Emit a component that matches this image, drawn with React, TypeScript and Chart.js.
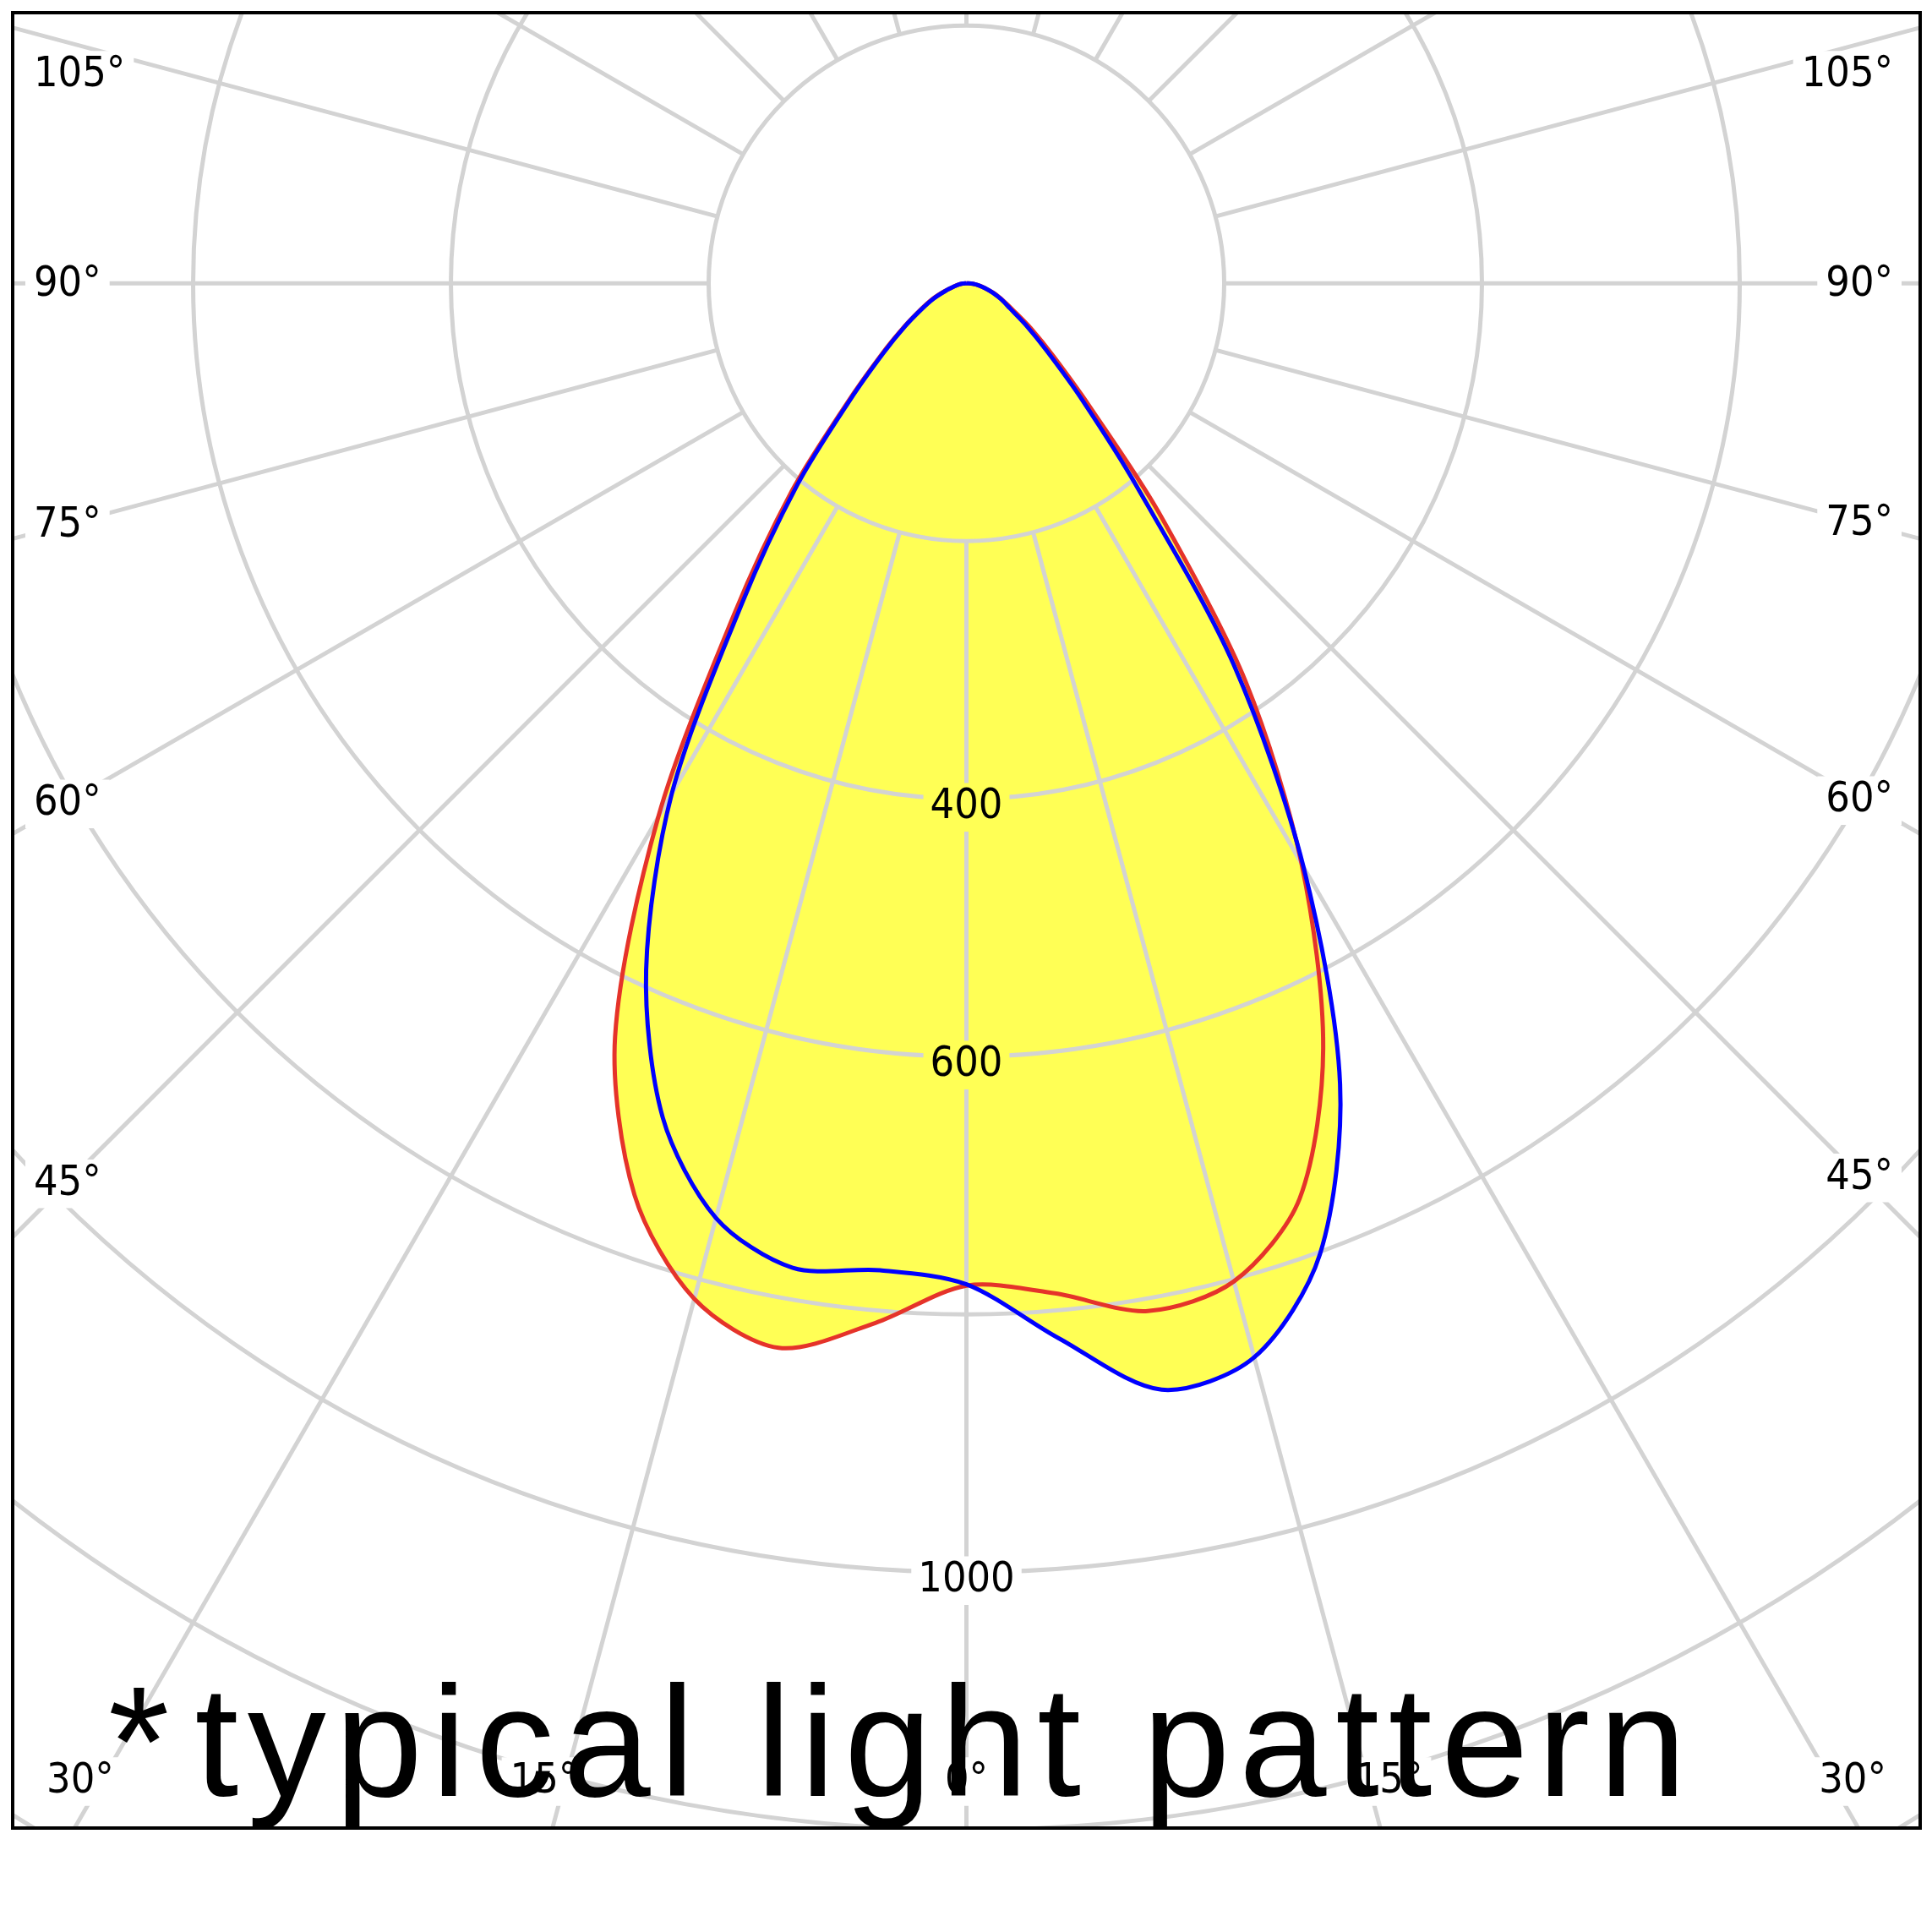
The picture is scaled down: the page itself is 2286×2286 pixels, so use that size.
import React, { useEffect, useRef } from 'react';
import { Chart, registerables } from 'chart.js';

Chart.register(...registerables);

// Photometric data: angle from nadir (deg), negative = left half
const ANGLES = [-90, -85, -80, -75, -70, -65, -60, -55, -50, -45, -40, -35, -30, -25, -20, -15, -10, -5, 0,
  5, 10, 15, 20, 25, 30, 35, 40, 45, 50, 55, 60, 65, 70, 75, 80, 85, 90];
// red curve (cd)
const PLANE_RED = [0, 3, 6, 10, 18, 29, 41, 59, 86, 130, 211, 315, 478, 645, 753, 816, 839, 810, 778,
  787, 810, 802, 756, 655, 520, 378, 232, 135, 88, 61, 42, 31, 23, 15, 10, 5, 0];
// blue curve (cd)
const PLANE_BLUE = [0, 3, 6, 10, 17, 28, 40, 58, 84, 127, 204, 304, 457, 588, 689, 751, 776, 769, 777,
  822, 872, 863, 802, 686, 523, 362, 205, 125, 81, 56, 39, 30, 22, 15, 10, 5, 0];

const RING_VALUES = [200, 400, 600, 800, 1000, 1200, 1400];
const RING_LABELS = [400, 600, 1000];
const SPOKE_ANGLES = [0, 15, 30, 45, 60, 75, 90, 105, 120, 135, 150, 165, 180, 195, 210, 225, 240, 255, 270, 285, 300, 315, 330, 345];
const ANGLE_LABELS = [105, 90, 75, 60, 45, 30, 15, 0];
const NOTE_MARK = '*';
const NOTE = 'typical light pattern';

const GRID = '#d3d3d3';
const LABEL_FONT = '50px "DejaVu Sans Condensed", "DejaVu Sans", sans-serif';
const FONT_SIZE = 50;

const rad = (d: number) => (d * Math.PI) / 180;
const toXY = (vals: number[]) =>
  ANGLES.map((a, i) => ({ x: vals[i] * Math.sin(rad(a)), y: -vals[i] * Math.cos(rad(a)) }));

type Box = { text: string; cx: number; cy: number; w: number; h: number };

function labelBoxes(chart: any): Box[] {
  const { ctx, chartArea: a, scales } = chart;
  const cx = scales.x.getPixelForValue(0);
  const cy = scales.y.getPixelForValue(0);
  const k = scales.x.getPixelForValue(1) - cx;
  ctx.save();
  ctx.font = LABEL_FONT;
  const boxes: Box[] = [];
  for (const r of RING_LABELS) {
    const t = String(r);
    const w = ctx.measureText(t).width;
    boxes.push({ text: t, cx, cy: cy + r * k + 10, w: w + 16, h: FONT_SIZE * 1.15 });
  }
  const bottomY = a.bottom - 55;
  const topY = a.top + 72;
  for (const ang of ANGLE_LABELS) {
    const sides = ang === 0 ? [1] : [-1, 1];
    for (const side of sides) {
      const t = `${ang}°`;
      const w = ctx.measureText(t).width;
      const s = Math.sin(rad(ang));
      const c = Math.cos(rad(ang));
      let px = 0;
      let py = 0;
      let bottom = true;
      if (s > 1e-6) {
        px = side < 0 ? a.left + 25 + w / 2 : a.right - 32 - w / 2;
        const R = Math.abs(px - cx) / s;
        py = cy + c * R;
        if (py <= bottomY) {
          bottom = false;
          if (py < topY) py = topY;
          py += 2;
        }
      }
      if (bottom) {
        py = bottomY;
        const R = (py - cy) / c;
        px = cx + side * s * R + (ang === 0 ? 0 : side * 25);
      }
      boxes.push({ text: t, cx: px, cy: py, w: w + 20, h: FONT_SIZE * 1.15 });
    }
  }
  ctx.restore();
  return boxes;
}

const polarPlugin = {
  id: 'polarGrid',
  beforeDatasetsDraw(chart: any) {
    const { ctx, chartArea: a, scales } = chart;
    const cx = scales.x.getPixelForValue(0);
    const cy = scales.y.getPixelForValue(0);
    const k = scales.x.getPixelForValue(1) - cx;
    const boxes = labelBoxes(chart);
    ctx.save();
    ctx.beginPath();
    ctx.rect(a.left, a.top, a.right - a.left, a.bottom - a.top);
    for (const b of boxes) ctx.rect(b.cx - b.w / 2, b.cy - b.h / 2, b.w, b.h);
    ctx.clip('evenodd');
    ctx.strokeStyle = GRID;
    ctx.lineWidth = 5;
    for (const r of RING_VALUES) {
      ctx.beginPath();
      ctx.arc(cx, cy, r * k, 0, Math.PI * 2);
      ctx.stroke();
    }
    const r0 = RING_VALUES[0] * k;
    for (const ang of SPOKE_ANGLES) {
      const s = Math.sin(rad(ang));
      const c = Math.cos(rad(ang));
      ctx.beginPath();
      ctx.moveTo(cx + s * r0, cy + c * r0);
      ctx.lineTo(cx + s * 4000, cy + c * 4000);
      ctx.stroke();
    }
    ctx.restore();
  },
  afterDatasetsDraw(chart: any) {
    const { ctx, chartArea: a } = chart;
    const boxes = labelBoxes(chart);
    ctx.save();
    ctx.font = LABEL_FONT;
    ctx.fillStyle = '#000';
    ctx.textAlign = 'center';
    ctx.textBaseline = 'middle';
    for (const b of boxes) ctx.fillText(b.text, b.cx, b.cy);
    ctx.strokeStyle = '#000';
    ctx.lineWidth = 4;
    ctx.strokeRect(a.left, a.top, a.right - a.left, a.bottom - a.top);
    ctx.font = '186px "Liberation Sans", Arial, sans-serif';
    ctx.textAlign = 'left';
    ctx.textBaseline = 'alphabetic';
    (ctx as any).letterSpacing = '0px';
    const markX = 128;
    ctx.fillText(NOTE_MARK, markX, 2125);
    const mw = ctx.measureText(NOTE_MARK).width;
    (ctx as any).letterSpacing = '10.7px';
    ctx.fillText(NOTE, markX + mw + 30, 2125);
    ctx.restore();
  },
};

export default function App() {
  const ref = useRef<HTMLCanvasElement>(null);
  useEffect(() => {
    const chart = new Chart(ref.current as HTMLCanvasElement, {
      type: 'scatter',
      data: {
        datasets: [
          {
            label: 'blue',
            data: toXY(PLANE_BLUE),
            showLine: true,
            borderColor: '#0000ff',
            borderWidth: 5,
            pointRadius: 0,
            tension: 0.3,
            fill: 'shape',
            backgroundColor: '#ffff55',
          } as any,
          {
            label: 'red',
            data: toXY(PLANE_RED),
            showLine: true,
            borderColor: '#e5332a',
            borderWidth: 5,
            pointRadius: 0,
            tension: 0.3,
            fill: 'shape',
            backgroundColor: '#ffff55',
          } as any,
        ],
      },
      options: {
        responsive: false,
        animation: false,
        devicePixelRatio: 1,
        events: [],
        layout: { padding: { left: 15, top: 15, right: 14, bottom: 123 } },
        scales: {
          x: { type: 'linear', min: -740, max: 740, display: false },
          y: { type: 'linear', min: -1199, max: 210, display: false },
        },
        plugins: {
          legend: { display: false },
          tooltip: { enabled: false },
          filler: { drawTime: 'beforeDraw' },
        } as any,
      },
      plugins: [polarPlugin],
    });
    return () => chart.destroy();
  }, []);
  return (
    <div style={{ position: 'absolute', left: 0, top: 0, width: 2286, height: 2286 }}>
      <canvas ref={ref} width={2286} height={2286} style={{ display: 'block' }} />
    </div>
  );
}
